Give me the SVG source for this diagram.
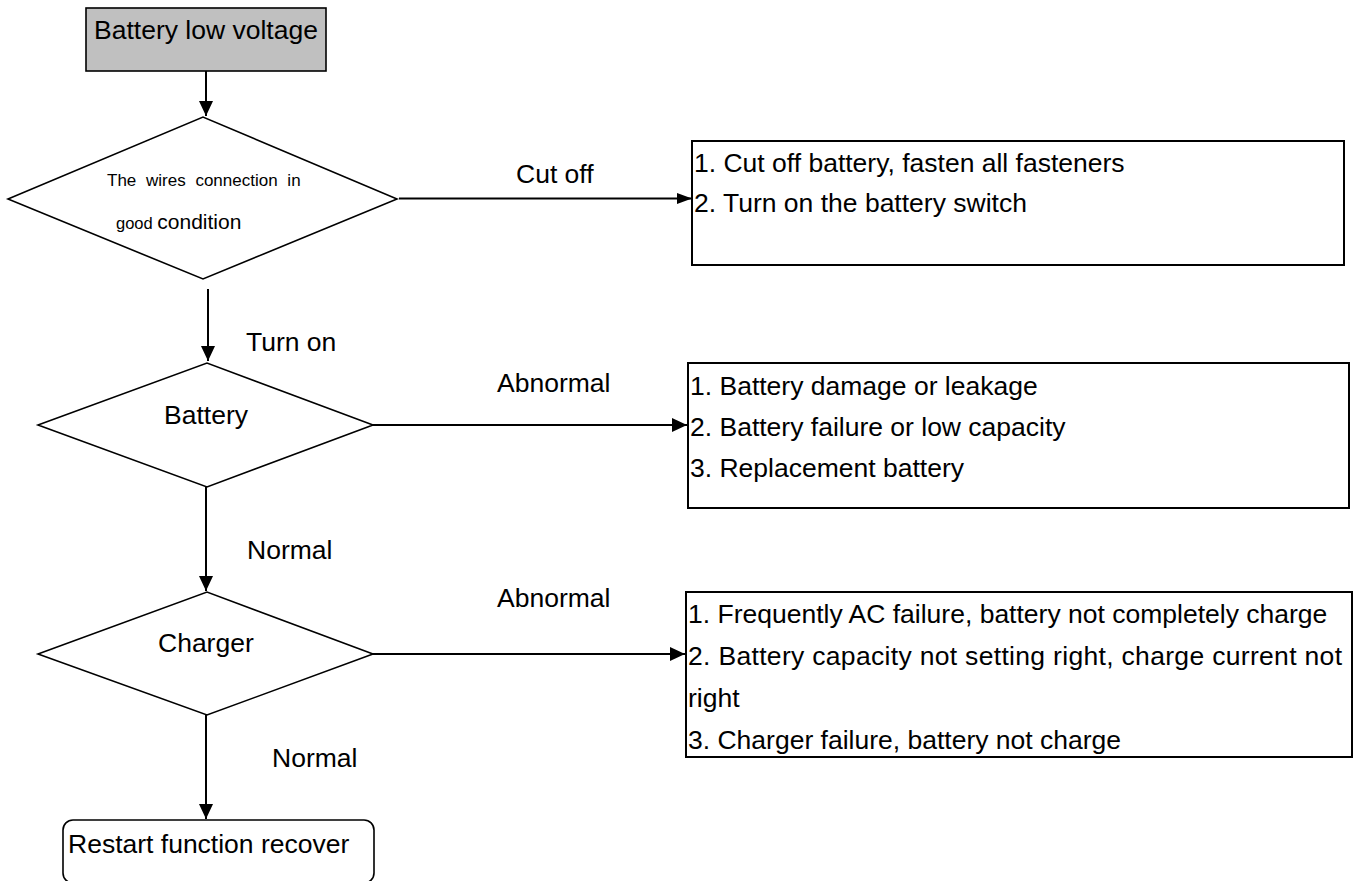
<svg xmlns="http://www.w3.org/2000/svg" width="1359" height="881" viewBox="0 0 1359 881">
<defs>
<style>
.t{font-family:"Liberation Sans",Arial,sans-serif;font-size:26.5px;fill:#000}
.s{font-family:"Liberation Sans",Arial,sans-serif;fill:#000}
.shape{fill:#fff;stroke:#000;stroke-width:1.6}
.box{fill:#fff;stroke:#000;stroke-width:2}
.conn{fill:none;stroke:#000;stroke-width:2}
</style>
<marker id="ah" markerUnits="userSpaceOnUse" markerWidth="16" markerHeight="16" refX="15" refY="7" orient="auto">
<path d="M0,0 L15,7 L0,14 z" fill="#000"/>
</marker>
<marker id="ahs" markerUnits="userSpaceOnUse" markerWidth="16" markerHeight="12" refX="15" refY="5.5" orient="auto">
<path d="M0,0 L15,5.5 L0,11 z" fill="#000"/>
</marker>
</defs>
<rect width="1359" height="881" fill="#fff"/>
<g id="connectors">
<line class="conn" x1="206" y1="71" x2="206" y2="116" marker-end="url(#ah)"/>
<line class="conn" x1="399" y1="198.5" x2="692" y2="198.5" marker-end="url(#ahs)"/>
<line class="conn" x1="208" y1="289" x2="208" y2="361" marker-end="url(#ah)"/>
<line class="conn" x1="373" y1="425" x2="687" y2="425" marker-end="url(#ah)"/>
<line class="conn" x1="206" y1="487" x2="206" y2="591" marker-end="url(#ah)"/>
<line class="conn" x1="373" y1="654" x2="685" y2="654" marker-end="url(#ah)"/>
<line class="conn" x1="206" y1="715" x2="206" y2="819" marker-end="url(#ah)"/>
<text class="t" x="516" y="183">Cut off</text>
<text class="t" x="246" y="351">Turn on</text>
<text class="t" x="497" y="392">Abnormal</text>
<text class="t" x="247" y="559">Normal</text>
<text class="t" x="497" y="607">Abnormal</text>
<text class="t" x="272" y="767">Normal</text>
</g>
<g id="start">
<rect x="86" y="8" width="240" height="63" fill="#c0c0c0" stroke="#000" stroke-width="1.6"/>
<text class="t" x="94" y="39">Battery low voltage</text>
</g>
<g id="d-wires">
<polygon class="shape" points="8,199 203,117 397,199 203,279"/>
<text class="s" x="107" y="186" font-size="17" word-spacing="5">The wires connection in</text>
<text class="s" x="116" y="229"><tspan font-size="16.5">good </tspan><tspan font-size="21">condition</tspan></text>
</g>
<g id="b-cutoff">
<rect class="box" x="692" y="141" width="652" height="124"/>
<text class="t" x="694" y="172">1. Cut off battery, fasten all fasteners</text>
<text class="t" x="694" y="212">2. Turn on the battery switch</text>
</g>
<g id="d-battery">
<polygon class="shape" points="38,425 207,363 373,425 207,487"/>
<text class="t" x="164" y="424">Battery</text>
</g>
<g id="b-battery">
<rect class="box" x="688" y="363" width="661" height="145"/>
<text class="t" x="690" y="395">1. Battery damage or leakage</text>
<text class="t" x="690" y="436">2. Battery failure or low capacity</text>
<text class="t" x="690" y="477">3. Replacement battery</text>
</g>
<g id="d-charger">
<polygon class="shape" points="38,654 207,592 373,654 207,715"/>
<text class="t" x="158" y="652">Charger</text>
</g>
<g id="b-charger">
<rect class="box" x="686" y="592" width="666" height="165"/>
<text class="t" x="688" y="623">1. Frequently AC failure, battery not completely charge</text>
<text class="t" x="688" y="665" textLength="654" lengthAdjust="spacing">2. Battery capacity not setting right, charge current not</text>
<text class="t" x="688" y="707">right</text>
<text class="t" x="688" y="749">3. Charger failure, battery not charge</text>
</g>
<g id="end">
<rect class="shape" x="63" y="820" width="311" height="63" rx="10" ry="10"/>
<text class="t" x="68" y="853">Restart function recover</text>
</g>
</svg>
